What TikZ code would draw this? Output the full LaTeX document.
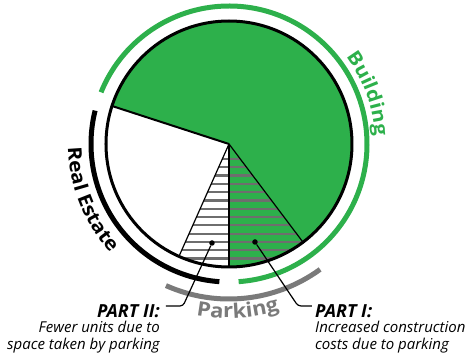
\documentclass[tikz,border=0pt]{standalone}
\usepackage{fontspec}
\setmainfont{Open Sans}
\newfontfamily\arcfont[FakeStretch=1.1]{Open Sans}
\usetikzlibrary{decorations.text}
\begin{document}
\begin{tikzpicture}[x=1pt,y=1pt,
  wedge/.style={line width=1.2pt,draw=black},
  hatch/.style={line width=2.2pt,draw=hatchgray},
  band/.style={line width=5pt},
  leader/.style={line width=1.2pt,rounded corners=3pt},
  dot/.style={circle,fill=black,inner sep=0pt,minimum size=5.5pt},
  parttitle/.style={font=\fontsize{18}{20}\selectfont\bfseries\itshape,inner sep=0pt},
  partnote/.style={font=\fontsize{15}{17}\selectfont\itshape,inner sep=0pt}]
\definecolor{bgreen}{HTML}{2DB04B}\definecolor{parkgray}{HTML}{7A7A7A}
\definecolor{hatchgray}{HTML}{6E6E6E}
\useasboundingbox (-229,-212) rectangle (238,144);
% pie
\fill[bgreen] (0,0) -- (-90:123) arc[start angle=-90,end angle=162,radius=123] -- cycle;
\begin{scope}
\clip (0,0) -- (-114:123) arc[start angle=-114,end angle=-53,radius=123] -- cycle;
\foreach \k in {0,...,13} \draw[hatch] (-130,-15-8.3*\k) -- (130,-15-8.3*\k);
\end{scope}
\draw[wedge] (-114:123) -- (0,0) -- (-53:123);
\draw[wedge] (0,0) -- (-90:123);
\draw[line width=2pt] (0,0) -- (162:123);
\draw[line width=3pt] (0,0) circle[radius=123];
% outer bands
\draw[band,bgreen] (-86:138) arc[start angle=-86,end angle=158,radius=138];
\draw[band,black] (166:138) arc[start angle=166,end angle=266,radius=138];
\draw[band,parkgray] (-114:155) arc[start angle=-114,end angle=-54,radius=155];
\path[decorate,decoration={text along path,text align=center,text color=bgreen,
  text={|\arcfont\fontsize{19}{20}\selectfont\bfseries|Building}}]
  (44:146) arc[start angle=44,end angle=-4,radius=146];
\path[decorate,decoration={text along path,text align=center,text color=black,
  text={|\arcfont\fontsize{19}{20}\selectfont\bfseries|Real Estate}}]
  (172:161) arc[start angle=172,end angle=232,radius=161];
\path[decorate,decoration={text along path,text align=center,text color=parkgray,
  text={|\arcfont\fontsize{20}{20}\selectfont\bfseries|Parking}}]
  (-115:174) arc[start angle=-115,end angle=-59,radius=174];
% callouts
\node[dot] (dotii) at (-17,-99) {};
\node[dot] (doti) at (26,-98) {};
\coordinate (bendii) at (-46,-162);
\coordinate (endii) at (-63,-162);
\coordinate (bendi) at (69,-162);
\coordinate (endi) at (83,-162);
\draw[leader] (dotii) -- (bendii) -- (endii);
\draw[leader] (doti) -- (bendi) -- (endi);
\node[parttitle,anchor=base east] (partii) at (-69,-174) {PART II:};
\node[partnote,anchor=north east,align=right] (noteii) at (-69,-177) {Fewer units due to\\space taken by parking};
\node[parttitle,anchor=base west] (parti) at (86,-174) {PART I:};
\node[partnote,anchor=north west,align=left] (notei) at (86,-177) {Increased construction\\costs due to parking};
\end{tikzpicture}
\end{document}
